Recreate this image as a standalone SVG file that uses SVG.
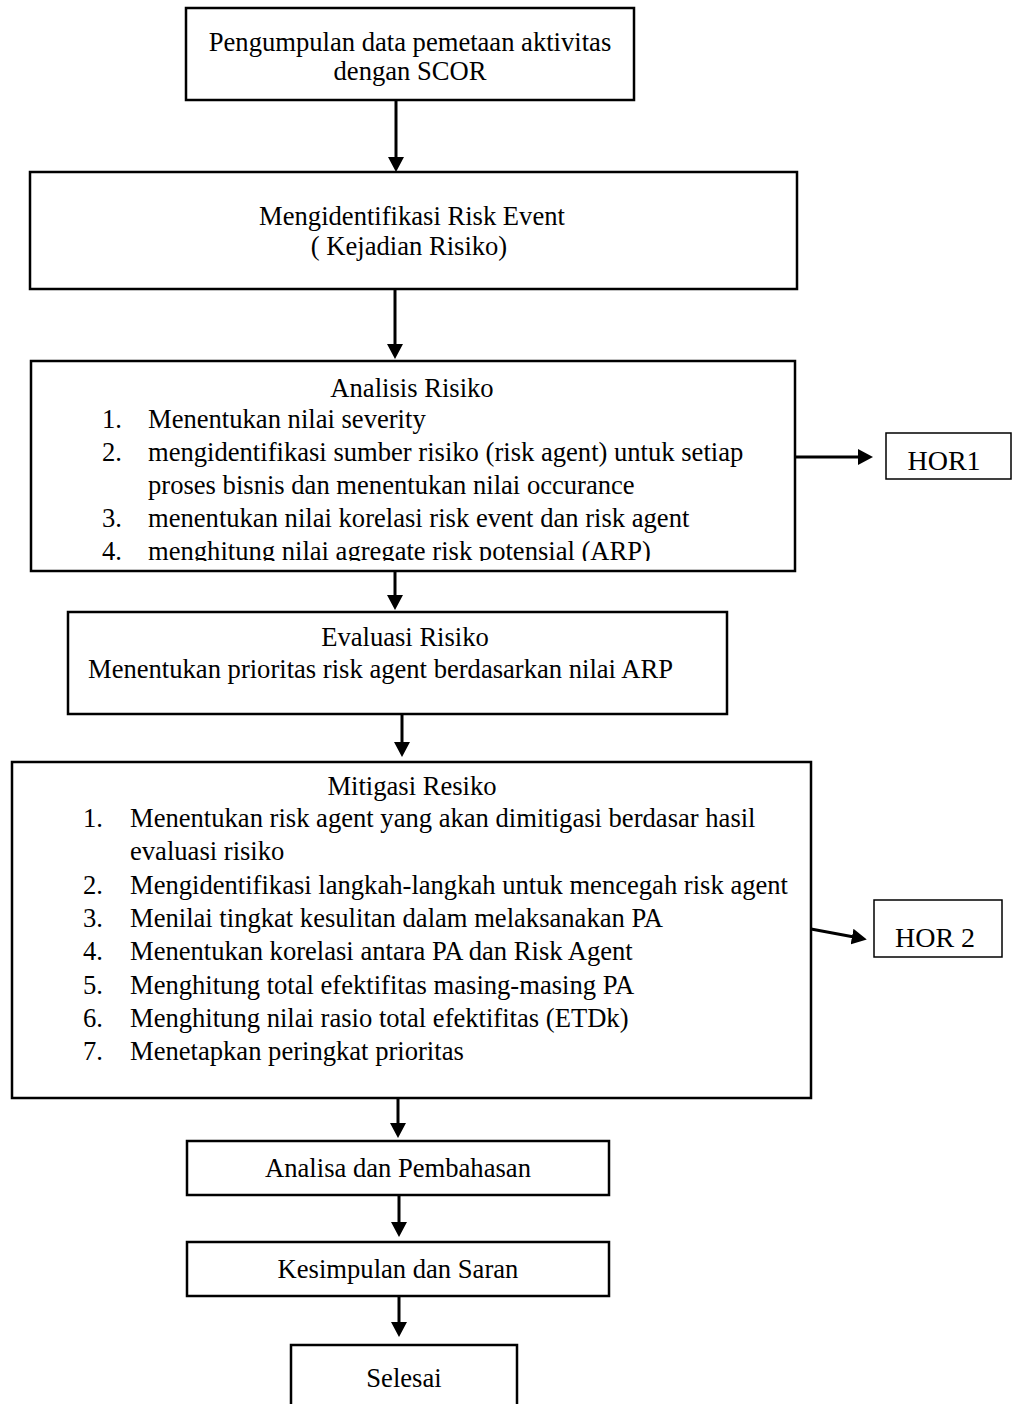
<svg xmlns="http://www.w3.org/2000/svg" width="1012" height="1404" viewBox="0 0 1012 1404">
<style>
.box{fill:#fff;stroke:#000;stroke-width:2.5}
.hbox{fill:#fff;stroke:#000;stroke-width:1.5}
.t{font-family:"Liberation Serif","Times New Roman",serif;font-size:26.6px;fill:#000}
.c{text-anchor:middle}
.h{font-size:28px}
.con{stroke:#000;stroke-width:3;fill:none}
</style>
<defs>
<marker id="ah" viewBox="0 0 15 16" refX="2" refY="8" markerWidth="15" markerHeight="16" markerUnits="userSpaceOnUse" orient="auto">
<path d="M0,0 L15,8 L0,16 z" fill="#000"/>
</marker>
<clipPath id="clipAR"><rect x="31" y="361" width="764" height="200"/></clipPath>
</defs>
<g id="connectors">
<line class="con" x1="396" y1="100" x2="396" y2="159" marker-end="url(#ah)"/>
<line class="con" x1="395" y1="289" x2="395" y2="346" marker-end="url(#ah)"/>
<line class="con" x1="395" y1="571" x2="395" y2="597" marker-end="url(#ah)"/>
<line class="con" x1="402" y1="714" x2="402" y2="744" marker-end="url(#ah)"/>
<line class="con" x1="398" y1="1098" x2="398" y2="1125" marker-end="url(#ah)"/>
<line class="con" x1="399" y1="1195" x2="399" y2="1224" marker-end="url(#ah)"/>
<line class="con" x1="399" y1="1296" x2="399" y2="1324" marker-end="url(#ah)"/>
<line class="con" x1="795" y1="457" x2="860" y2="457" marker-end="url(#ah)"/>
<line class="con" x1="811" y1="929" x2="854" y2="937" marker-end="url(#ah)"/>
</g>
<g id="n1">
<rect class="box" x="186" y="8" width="448" height="92"/>
<text class="t c" x="410" y="51">Pengumpulan data pemetaan aktivitas</text>
<text class="t c" x="410" y="80">dengan SCOR</text>
</g>
<g id="n2">
<rect class="box" x="30" y="172" width="767" height="117"/>
<text class="t c" x="412" y="225">Mengidentifikasi Risk Event</text>
<text class="t c" x="409" y="255">( Kejadian Risiko)</text>
</g>
<g id="n3">
<rect class="box" x="31" y="361" width="764" height="210"/>
<text class="t c" x="412" y="397">Analisis Risiko</text>
<g clip-path="url(#clipAR)">
<text class="t" x="102" y="428">1.</text><text class="t" x="148" y="428">Menentukan nilai severity</text>
<text class="t" x="102" y="461">2.</text><text class="t" x="148" y="461">mengidentifikasi sumber risiko (risk agent) untuk setiap</text>
<text class="t" x="148" y="494">proses bisnis dan menentukan nilai occurance</text>
<text class="t" x="102" y="527">3.</text><text class="t" x="148" y="527">menentukan nilai korelasi risk event dan risk agent</text>
<text class="t" x="102" y="560">4.</text><text class="t" x="148" y="560">menghitung nilai agregate risk potensial (ARP)</text>
</g>
</g>
<g id="hor1">
<rect class="hbox" x="886" y="433" width="125" height="46"/>
<text class="t h c" x="944" y="470">HOR1</text>
</g>
<g id="n4">
<rect class="box" x="68" y="612" width="659" height="102"/>
<text class="t c" x="405" y="646">Evaluasi Risiko</text>
<text class="t" x="88" y="678">Menentukan prioritas risk agent berdasarkan nilai ARP</text>
</g>
<g id="n5">
<rect class="box" x="12" y="762" width="799" height="336"/>
<text class="t c" x="412" y="795">Mitigasi Resiko</text>
<text class="t" x="83" y="827">1.</text><text class="t" x="130" y="827">Menentukan risk agent yang akan dimitigasi berdasar hasil</text>
<text class="t" x="130" y="860">evaluasi risiko</text>
<text class="t" x="83" y="894">2.</text><text class="t" x="130" y="894">Mengidentifikasi langkah-langkah untuk mencegah risk agent</text>
<text class="t" x="83" y="927">3.</text><text class="t" x="130" y="927">Menilai tingkat kesulitan dalam melaksanakan PA</text>
<text class="t" x="83" y="960">4.</text><text class="t" x="130" y="960">Menentukan korelasi antara PA dan Risk Agent</text>
<text class="t" x="83" y="994">5.</text><text class="t" x="130" y="994">Menghitung total efektifitas masing-masing PA</text>
<text class="t" x="83" y="1027">6.</text><text class="t" x="130" y="1027">Menghitung nilai rasio total efektifitas (ETDk)</text>
<text class="t" x="83" y="1060">7.</text><text class="t" x="130" y="1060">Menetapkan peringkat prioritas</text>
</g>
<g id="hor2">
<rect class="hbox" x="874" y="900" width="128" height="57"/>
<text class="t h c" x="935" y="947">HOR 2</text>
</g>
<g id="n6">
<rect class="box" x="187" y="1141" width="422" height="54"/>
<text class="t c" x="398" y="1177">Analisa dan Pembahasan</text>
</g>
<g id="n7">
<rect class="box" x="187" y="1242" width="422" height="54"/>
<text class="t c" x="398" y="1278">Kesimpulan dan Saran</text>
</g>
<g id="n8">
<rect class="box" x="291" y="1345" width="226" height="70"/>
<text class="t c" x="404" y="1387">Selesai</text>
</g>
</svg>
